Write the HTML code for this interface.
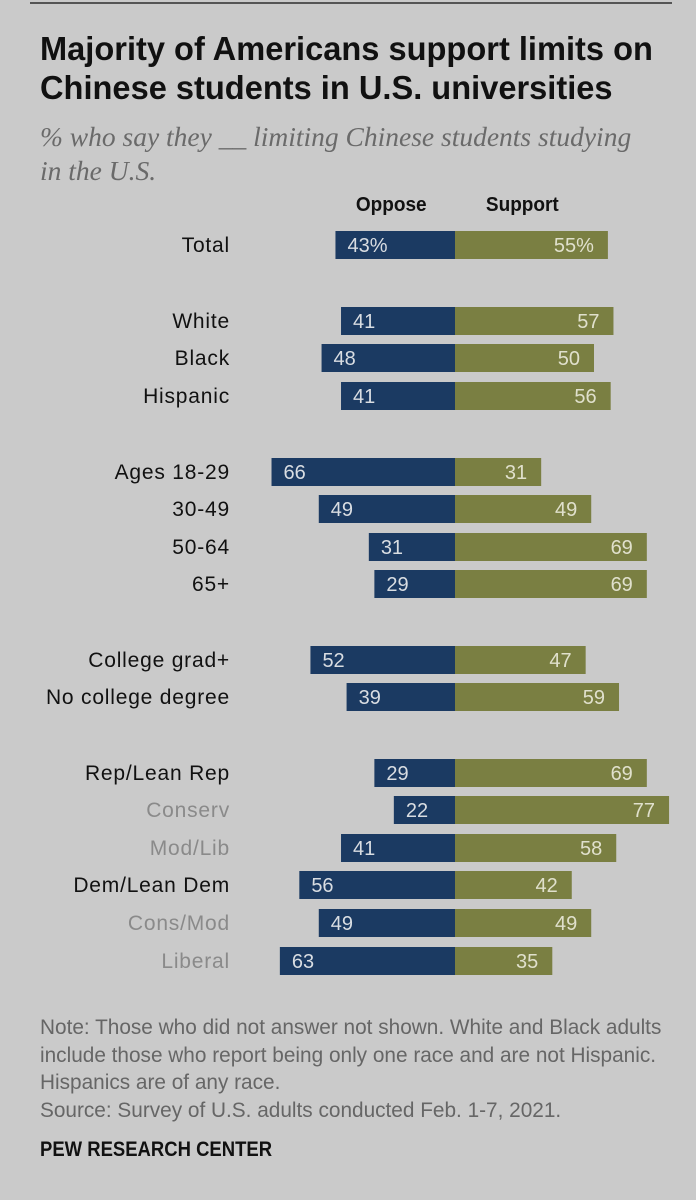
<!DOCTYPE html>
<html><head><meta charset="utf-8">
<style>
body{margin:0;width:696px;height:1200px;background:#cacaca;font-family:"Liberation Sans",sans-serif;position:relative;overflow:hidden}
.t{position:absolute;left:40px;font-weight:bold;font-size:33px;color:#111;white-space:nowrap;transform:scaleX(0.988);transform-origin:left top;line-height:38px}
.sub{position:absolute;left:40px;font-family:"Liberation Serif",serif;font-style:italic;font-size:27.5px;color:#6a6a6a;line-height:34px;top:120px;white-space:nowrap}
.hd{position:absolute;top:194px;font-weight:bold;font-size:20px;color:#111;transform:scaleX(0.95)}
.note{position:absolute;left:40px;top:1014px;font-size:21px;color:#666;line-height:27.7px;white-space:nowrap;transform:scaleX(0.99);transform-origin:left top}
.pew{position:absolute;left:40px;top:1138px;font-size:21px;font-weight:bold;color:#111;transform:scaleX(0.88);transform-origin:left top}
</style></head><body>
<div style="position:absolute;left:30px;top:2px;width:642px;height:2px;background:#555"></div>
<div class="t" style="top:30px">Majority of Americans support limits on</div>
<div class="t" style="top:69px">Chinese students in U.S. universities</div>
<div class="sub">% who say they __ limiting Chinese students studying<br>in the U.S.</div>
<div class="hd" style="left:354px">Oppose</div>
<div class="hd" style="left:484px">Support</div>
<svg id="chart" width="696" height="1200" style="position:absolute;left:0;top:0"></svg>
<div class="note">Note: Those who did not answer not shown. White and Black adults<br>include those who report being only one race and are not Hispanic.<br>Hispanics are of any race.<br>Source: Survey of U.S. adults conducted Feb. 1-7, 2021.</div>
<div class="pew">PEW RESEARCH CENTER</div>
<script>
const categories=["Total","White","Black","Hispanic","Ages 18-29","30-49","50-64","65+","College grad+","No college degree","Rep/Lean Rep","Conserv","Mod/Lib","Dem/Lean Dem","Cons/Mod","Liberal"];
const oppose=[43,41,48,41,66,49,31,29,52,39,29,22,41,56,49,63];
const support=[55,57,50,56,31,49,69,69,47,59,69,77,58,42,49,35];
const rowY=[245,321,358,396,472,509,547,584,660,697,773,810,848,885,923,961];
const gray=[0,0,0,0,0,0,0,0,0,0,0,1,1,0,1,1];
const cx=455,k=2.78,bh=28;
const x=v=>v*k;
const svg=document.getElementById('chart');
const NS='http://www.w3.org/2000/svg';
function mk(t,a){const e=document.createElementNS(NS,t);for(const n in a)e.setAttribute(n,a[n]);svg.appendChild(e);return e;}
categories.forEach((c,i)=>{
  const y=rowY[i];
  const l=mk('text',{x:230,y:y+7,'text-anchor':'end','font-size':21,'letter-spacing':0.8,fill:gray[i]?'#8a8a8a':'#111','font-family':'Liberation Sans, sans-serif'});
  l.textContent=c;
  
  
  const w1=x(oppose[i]);
  const b1=mk('rect',{x:cx-w1,y:y-bh/2,width:w1,height:bh,fill:'#1b3a62'});
  
  
  const w2=x(support[i]);
  const b2=mk('rect',{x:cx,y:y-bh/2,width:w2,height:bh,fill:'#7a7f42'});
  
  
  const t1=mk('text',{x:cx-w1+12,y:y+7,'font-size':20,fill:'#d9dde2','font-family':'Liberation Sans, sans-serif'});
  t1.textContent=oppose[i]+(i==0?'%':'');
  
  
  const t2=mk('text',{x:cx+w2-14,y:y+7,'text-anchor':'end','font-size':20,fill:'#e0e0cc','font-family':'Liberation Sans, sans-serif'});
  t2.textContent=support[i]+(i==0?'%':'');
  
  
});
</script>
</body></html>
